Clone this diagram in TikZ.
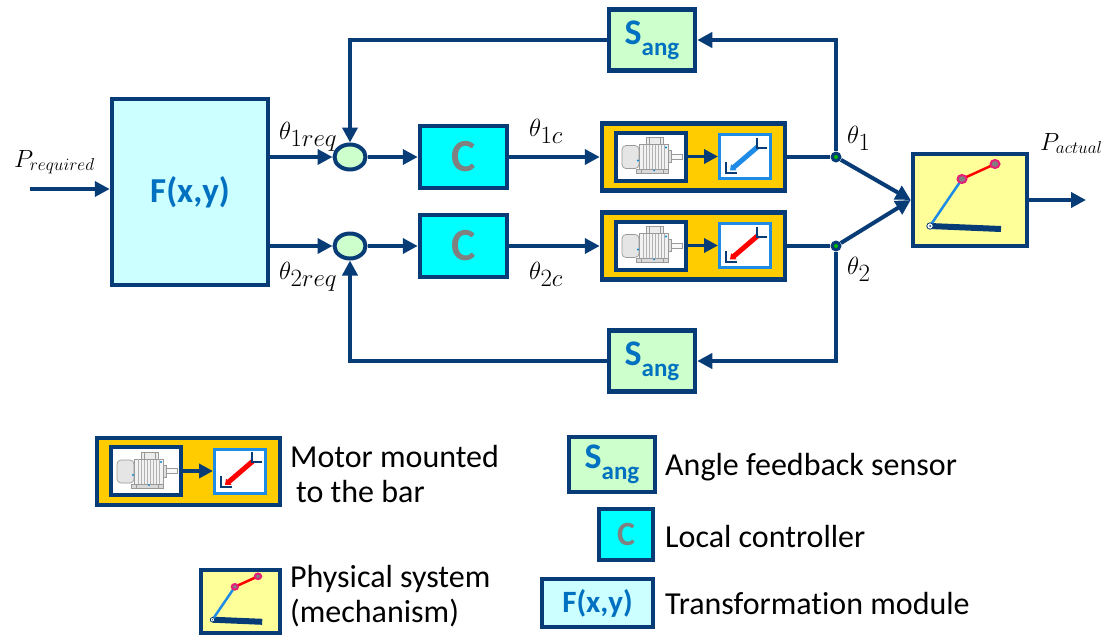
\documentclass[tikz,border=0pt]{standalone}
\usepackage{fontspec}
\setmainfont{Carlito}[Ligatures=NoCommon]
\usepackage{tikz}
\usetikzlibrary{arrows.meta}
\usetikzlibrary{shapes.geometric}

\definecolor{linecol}{RGB}{8,60,118}
\definecolor{txtblue}{RGB}{0,112,192}
\definecolor{fcol}{RGB}{204,255,255}
\definecolor{ccol}{RGB}{0,255,255}
\definecolor{scol}{RGB}{204,255,204}
\definecolor{mcol}{RGB}{255,204,0}
\definecolor{pcol}{RGB}{255,255,153}
\definecolor{barblue}{RGB}{30,140,230}
\definecolor{jointcol}{RGB}{230,30,120}

\tikzset{
  wire/.style={draw=linecol, line width=4pt},
  sig/.style={wire, -{Triangle[length=15pt,width=15pt]}},
  blk/.style={draw=linecol, line width=4.5pt, inner sep=0pt},
  fblock/.style={blk, fill=fcol, text=txtblue, font=\fontsize{35}{36}\selectfont\bfseries},
  cblock/.style={blk, fill=ccol, text=gray, font=\fontsize{46}{48}\selectfont\bfseries},
  sblock/.style={blk, fill=scol, text=txtblue, font=\fontsize{36}{38}\selectfont\bfseries},
  sumnode/.style={ellipse, draw=linecol, line width=4pt, fill=scol,
    minimum width=31pt, minimum height=25pt, inner sep=0pt},
  motorbox/.style={blk, fill=mcol, minimum width=183pt, minimum height=67pt},
  physbox/.style={blk, fill=pcol},
  dot/.style={circle, fill=linecol, minimum size=11pt, inner sep=0pt,
    path picture={\fill[green!75!black] (path picture bounding box.center) circle (2pt);}},
  mlbl/.style={font=\fontsize{25}{28}\selectfont, inner sep=0pt, anchor=base west},
  tlbl/.style={font=\fontsize{35}{36}\selectfont, inner sep=0pt, anchor=base west},
  lbl/.style={font=\fontsize{32}{35}\selectfont, inner sep=0pt, anchor=base west, align=left},
  % motor driving the bar, #1 = colour of the bar
  pics/motorunit/.style={code={
    \node[draw=linecol, line width=4pt, fill=white, minimum width=70pt,
      minimum height=48pt, inner sep=0pt] (-mot) at (-42.5,-0.5) {};
    \node[draw=barblue, line width=3pt, fill=white, minimum width=51pt,
      minimum height=44pt, inner sep=0pt] (-bar) at (51.5,-0.5) {};
    \draw[wire, line width=3.5pt, -{Triangle[length=14pt,width=14pt]}] (-mot) -- (-bar);
    % motor sketch
    \begin{scope}[shift={(-42.5,-0.5)}, draw=gray!80, line width=0.7pt]
      \draw[fill=gray!20, rounded corners=4pt] (-29,-11) rectangle (-12,12);
      \draw[fill=gray!10] (-12,-12) rectangle (17,13);
      \foreach \x in {-8,-5,...,14} \draw[gray!60] (\x,-12) -- (\x,13);
      \draw[fill=gray!15] (-5,-19) rectangle (12,-12);
      \draw (-2,-19) -- (-2,-12) (9,-19) -- (9,-12);
      \draw[fill=gray!25] (17,-6) rectangle (20,6);
      \draw[fill=gray!5] (20,-2.5) rectangle (31,2.5);
      \draw[fill=gray!30] (-15,13) rectangle (17,17);
      \draw (-10,13) -- (-10,17) (12,13) -- (12,17);
      \fill[cyan!70!blue] (-13,4) circle (1.2pt) (15,-9) circle (1.2pt) (3,14) circle (1pt);
    \end{scope}
    % bar sketch
    \begin{scope}[shift={(51.5,-0.5)}]
      \draw[#1, line width=5pt, -{Triangle[length=5pt,width=8pt]}] (13,-10) -- (-15,14);
      \draw[linecol, line width=2pt] (12,-19) -- (12,-9) -- (22,-9);
      \draw[linecol, line width=2pt] (-19,5) -- (-19,16) -- (-8,16);
    \end{scope}
  }},
  % two-link mechanism on its base
  pics/mechanism/.style={code={
    \draw[linecol, line width=6pt] (-40,26) -- (31,29);
    \draw[barblue, line width=2.5pt] (-40,26) -- (-8,-21);
    \draw[red, line width=2.5pt] (-8,-21) -- (25,-36);
    \draw[linecol, fill=white, line width=0.8pt] (-40,26) circle (3.2pt);
    \fill[linecol] (-40,26) circle (1pt);
    \foreach \p in {(-8,-21),(25,-36)}
      \filldraw[fill=gray, draw=jointcol, line width=2pt] \p ellipse (4.5pt and 4pt);
  }}
}

\begin{document}
\begin{tikzpicture}[x=1pt, y=-1pt]
\useasboundingbox[fill=white] (0,0) rectangle (1111,638);

% main loop blocks
\node[fblock, minimum width=156pt, minimum height=186pt] (F) at (190,192) {F(x,y)};
\node[sumnode] (sum1) at (350,157) {};
\node[sumnode] (sum2) at (350,246) {};
\node[cblock, minimum width=87pt, minimum height=62pt] (C1) at (463.5,157) {C};
\node[cblock, minimum width=87pt, minimum height=62pt] (C2) at (463.5,246) {C};
\node[motorbox] (m1) at (693.5,157) {};
\node[motorbox] (m2) at (693.5,246) {};
\pic (u1) at (m1.center) {motorunit=barblue};
\pic (u2) at (m2.center) {motorunit=red};
\node[sblock, minimum width=86pt, minimum height=61pt] (S1) at (652,40)
  {S{\fontsize{25}{25}\selectfont\raisebox{-11pt}{ang}}};
\node[sblock, minimum width=86pt, minimum height=61pt] (S2) at (652,361)
  {S{\fontsize{25}{25}\selectfont\raisebox{-11pt}{ang}}};
\node[physbox, minimum width=114pt, minimum height=92pt] (phys) at (970,200) {};
\pic at (phys.center) {mechanism};
\node[dot] (j1) at (836,157) {};
\node[dot] (j2) at (836,246) {};
\coordinate (pin) at (30,189);
\coordinate (pout) at (1086,200);

% signals
\draw[sig] (pin) -- (F.west |- pin);
\draw[sig] (F.east |- sum1) -- (sum1);
\draw[sig] (F.east |- sum2) -- (sum2);
\draw[sig] (sum1) -- (C1);
\draw[sig] (sum2) -- (C2);
\draw[sig] (C1) -- (m1);
\draw[sig] (C2) -- (m2);
\draw[wire] (m1) -- (j1);
\draw[wire] (m2) -- (j2);
\draw[sig] (j1) -- (phys.west);
\draw[sig] (j2) -- (phys.west);
\draw[sig] (phys) -- (pout);
% feedback
\draw[sig] (j1) |- (S1);
\draw[sig] (S1) -| (sum1);
\draw[sig] (j2) |- (S2);
\draw[sig] (S2) -| (sum2);

% signal names
\node[mlbl] (lpreq) at (14,167) {$P_{required}$};
\node[tlbl] (lt1r) at (279,139) {$\theta_{1req}$};
\node[tlbl] (lt2r) at (279,279) {$\theta_{2req}$};
\node[tlbl] (lt1c) at (529,136) {$\theta_{1c}$};
\node[tlbl] (lt2c) at (529,279) {$\theta_{2c}$};
\node[tlbl] (lt1) at (847,143) {$\theta_1$};
\node[tlbl] (lt2) at (847,274) {$\theta_2$};
\node[mlbl, font=\fontsize{27}{28}\selectfont] (lpact) at (1040,150) {$P_{actual}$};

% legend
\node[motorbox] (km) at (188.5,471.5) {};
\pic (uk) at (km.center) {motorunit=red};
\node[lbl] (tm) at (290,502) {Motor mounted\\\hspace{6pt}to the bar};
\node[physbox, minimum width=79pt, minimum height=63pt] (kp) at (240.5,601.5) {};
\pic[scale=0.7] at (kp.center) {mechanism};
\node[lbl] (tp) at (290,622) {Physical system\\(mechanism)};
\node[sblock, minimum width=86pt, minimum height=55pt] (ks) at (612,464.5)
  {S{\fontsize{25}{25}\selectfont\raisebox{-11pt}{ang}}};
\node[lbl] (ts) at (665,475) {Angle feedback sensor};
\node[cblock, minimum width=54pt, minimum height=51pt,
  font=\fontsize{34}{36}\selectfont\bfseries] (kc) at (626,534.5) {C};
\node[lbl] (tc) at (665,547) {Local controller};
\node[fblock, minimum width=111pt, minimum height=48pt,
  font=\fontsize{31}{32}\selectfont\bfseries] (kf) at (597.5,603) {F(x,y)};
\node[lbl] (tf) at (665,614) {Transformation module};
\end{tikzpicture}
\end{document}
